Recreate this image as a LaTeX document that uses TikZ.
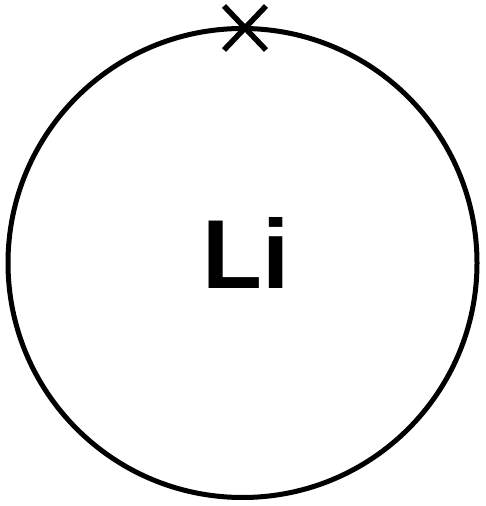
\documentclass[tikz,border=0pt]{standalone}
\usepackage{fontspec}
\setmainfont{Liberation Sans}
\usetikzlibrary{calc}
\begin{document}
\begin{tikzpicture}[x=1pt,y=1pt,
  ring/.style={draw=black,line width=5pt},
  crossline/.style={draw=black,line width=5.5pt},
  label/.style={font=\bfseries\fontsize{98}{98}\selectfont,inner sep=0pt}]
\useasboundingbox (0,0) rectangle (485,506);
\path[ring] (242.5,243) circle (234.5);
\node[label] (li) at (246,253) {Li};
\coordinate (c) at (245,478);
\draw[crossline] ($(c)+(-21,-22)$) -- ($(c)+(21,22)$);
\draw[crossline] ($(c)+(-21,22)$) -- ($(c)+(21,-22)$);
\end{tikzpicture}
\end{document}
